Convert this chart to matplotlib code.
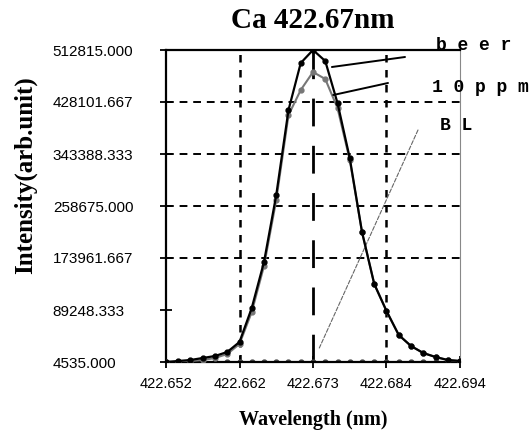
import numpy as np
import matplotlib
matplotlib.use("Agg")
import matplotlib.pyplot as plt

# wavelength grid of the scan (nm)
wavelength = np.linspace(422.652, 422.694, 25)

beer = [4535, 6164, 7793, 11051, 14310, 20826, 37117, 92506, 167445, 276594,
        415068, 491640, 512815, 494898, 426480, 336883, 216331, 131605, 87619,
        48521, 30601, 19197, 12681, 7793, 6164]
ppm10 = [4535, 4535, 6164, 7793, 11051, 17568, 33858, 85990, 160928, 268449,
         406923, 447651, 476968, 465564, 418320, 333624, 216331, 131605, 87619,
         48521, 30601, 19197, 12681, 7793, 6164]
bl = [4535] * 25

x_ticks = [422.652, 422.6625, 422.673, 422.6835, 422.694]
x_labels = ["422.652", "422.662", "422.673", "422.684", "422.694"]
y_ticks = [4535.0, 89248.333, 173961.667, 258675.0, 343388.333, 428101.667, 512815.0]
y_labels = ["4535.000", "89248.333", "173961.667", "258675.000",
            "343388.333", "428101.667", "512815.000"]

fig = plt.figure(figsize=(5.31, 4.45), dpi=100)
ax = fig.add_axes([166/531, 1-362/445, 294/531, 312/445])

# dashed grid
for yv in y_ticks[2:6]:
    ax.axhline(yv, color="black", lw=1.4, ls=(0, (4, 3)), zorder=1)
ax.axvline(x_ticks[1], color="black", lw=1.8, ls=(0, (3, 3)), zorder=1)
ax.axvline(x_ticks[3], color="black", lw=1.8, ls=(0, (3, 3)), zorder=1)
ax.axvline(x_ticks[2], color="black", lw=2.0, ls=(0, (10, 7)), zorder=1)

ax.plot(wavelength, bl, color="#444444", lw=1.2, marker="o", ms=3.5, zorder=2)
ax.plot(wavelength, ppm10, color="#777777", lw=1.5, marker="o", ms=3.5, zorder=3)
ax.plot(wavelength, beer, color="black", lw=1.6, marker="o", ms=3.5, zorder=4)

ax.set_xlim(422.652, 422.694)
ax.set_ylim(4535, 512815)
ax.set_xticks(x_ticks)
ax.set_xticklabels(x_labels, fontsize=10.5, family="Liberation Sans")
ax.set_yticks(y_ticks)
ax.set_yticklabels(y_labels, fontsize=11, family="Liberation Sans", ha="left")
ax.tick_params(axis="both", direction="inout", length=9, width=1.3)
ax.tick_params(axis="x", pad=6)
ax.tick_params(axis="y", pad=77)

for side in ["left", "bottom", "top"]:
    ax.spines[side].set_linewidth(1.6)
ax.spines["right"].set_linewidth(0.8)
ax.spines["right"].set_color("#888888")

ax.set_title("Ca 422.67nm", fontsize=21, fontweight="bold",
             family="Liberation Serif", pad=16)
ax.set_xlabel("Wavelength (nm)", fontsize=14.5, fontweight="bold",
              family="Liberation Serif")
ax.xaxis.set_label_coords(0.5, -0.155)
ax.set_ylabel("Intensity(arb.unit)", fontsize=18, fontweight="bold",
              family="Liberation Serif")
ax.yaxis.set_label_coords(-0.44, 0.6)

# labels with leader lines
lab = dict(fontsize=13, fontweight="bold", family="Liberation Mono",
           va="center", ha="left")
fig.text(436/531, 1-45/445, "b e e r", **lab)
fig.text(432/531, 1-88/445, "1 0 p p m", **lab)
fig.text(440/531, 1-125/445, "B L", **lab)
ax.annotate("", xy=(422.6757, 485120), xytext=(405/531, 1-57/445),
            textcoords="figure fraction",
            arrowprops=dict(arrowstyle="-", color="black", lw=1.4,
                            shrinkA=0, shrinkB=0))
ax.annotate("", xy=(422.6759, 439504), xytext=(388/531, 1-83/445),
            textcoords="figure fraction",
            arrowprops=dict(arrowstyle="-", color="black", lw=1.4,
                            shrinkA=0, shrinkB=0))
ax.annotate("", xy=(422.6739, 27340), xytext=(418/531, 1-130/445),
            textcoords="figure fraction",
            arrowprops=dict(arrowstyle="-", color="#666666", lw=0.8, ls="--",
                            shrinkA=0, shrinkB=0))

fig.savefig("out.png", dpi=100)
